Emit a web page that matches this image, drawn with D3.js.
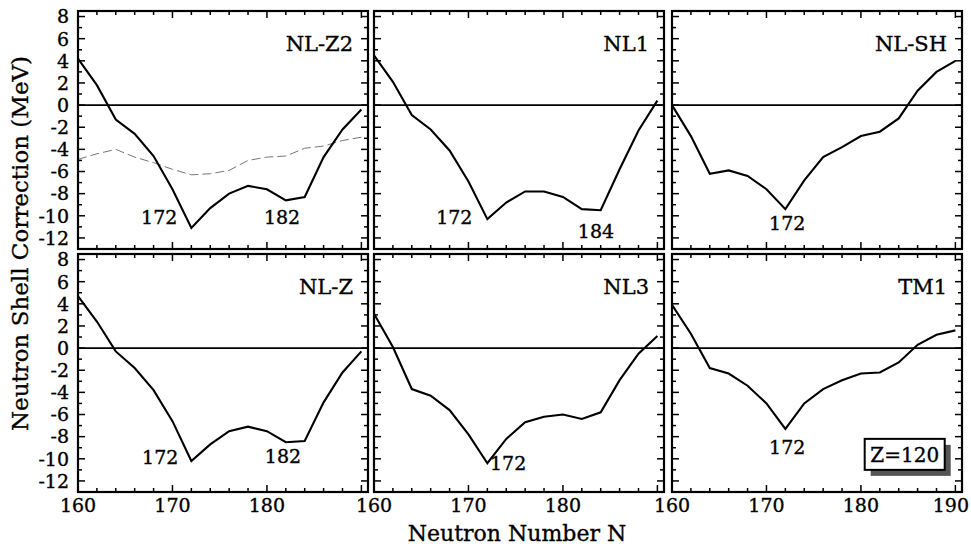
<!DOCTYPE html>
<html><head><meta charset="utf-8">
<script src="https://cdn.jsdelivr.net/npm/d3@7"></script>
<style>html,body{margin:0;padding:0;background:#fff;}svg{display:block;}</style>
</head><body>
<script>
// ---- data ----
const neutronN = [160,162,164,166,168,170,172,174,176,178,180,182,184,186,188,190];
const panelNames = ["NL-Z2","NL1","NL-SH","NL-Z","NL3","TM1"];
const nlz2  = [4.2,1.8,-1.3,-2.6,-4.6,-7.6,-11.1,-9.3,-8.0,-7.3,-7.6,-8.6,-8.3,-4.7,-2.2,-0.4];
const nlz2Ref = [-4.9,-4.4,-4.0,-4.7,-5.2,-5.8,-6.3,-6.2,-5.9,-5.0,-4.7,-4.6,-3.9,-3.7,-3.2,-2.9];
const nl1   = [4.5,2.1,-0.9,-2.2,-4.1,-6.9,-10.3,-8.8,-7.8,-7.8,-8.3,-9.4,-9.5,-5.8,-2.3,0.4];
const nlsh  = [0.0,-2.8,-6.2,-5.9,-6.4,-7.6,-9.4,-6.8,-4.7,-3.8,-2.8,-2.4,-1.2,1.3,3.0,4.0];
const nlz   = [4.7,2.4,-0.3,-1.8,-3.8,-6.6,-10.2,-8.7,-7.5,-7.1,-7.5,-8.5,-8.4,-4.9,-2.2,-0.3];
const nl3   = [3.1,0.1,-3.7,-4.3,-5.6,-7.8,-10.4,-8.2,-6.7,-6.2,-6.0,-6.4,-5.8,-2.9,-0.5,1.1];
const tm1   = [3.9,1.3,-1.8,-2.3,-3.4,-5.0,-7.3,-5.0,-3.7,-2.9,-2.3,-2.2,-1.3,0.3,1.2,1.6];
const panelSeries = [nlz2, nl1, nlsh, nlz, nl3, tm1];
// shell-closure annotations: [panel, text, N position, value position]
const annotations = [
  [0,"172",168.6,-10.7],[0,"182",181.6,-10.7],
  [1,"172",168.5,-10.7],[1,"184",183.5,-12.0],
  [2,"172",172.2,-11.3],
  [3,"172",168.7,-10.5],[3,"182",181.7,-10.4],
  [4,"172",174.2,-11.0],
  [5,"172",172.2,-9.6]
];
const yTicks = [8,6,4,2,0,-2,-4,-6,-8,-10,-12];
const xTickLabels = [160,170,180,190];
const yLabel = "Neutron Shell Correction (MeV)";
const xLabel = "Neutron Number N";
const boxLabel = "Z=120";

// ---- layout ----
const W = 971, H = 546;
const colX = [78, 374, 672], panelW = 290;
const rowY = [11, 254], panelH = 238;
const font = "DejaVu Serif";

const svg = d3.select("body").append("svg").attr("width", W).attr("height", H)
  .style("font-family", font);

function txt(sel) { return sel.attr("fill", "#000").attr("stroke", "#000").attr("stroke-width", 0.35); }

panelNames.forEach((name, i) => {
  const col = i % 3, row = Math.floor(i / 3);
  const g = svg.append("g").attr("transform", `translate(${colX[col]},${rowY[row]})`);
  const x = d3.scaleLinear().domain([160, 190.7]).range([0, panelW]);
  const y = d3.scaleLinear().domain([-13, 8.5]).range([panelH, 0]);

  // zero line
  g.append("line").attr("x1", 0).attr("x2", panelW).attr("y1", y(0)).attr("y2", y(0))
    .attr("stroke", "#000").attr("stroke-width", 1.6);

  // ticks
  const tg = g.append("g").attr("stroke", "#000").attr("stroke-width", 1.5);
  d3.range(160, 191, 2).forEach(n => {
    const len = (n % 10 === 0) ? 7 : 4;
    tg.append("line").attr("x1", x(n)).attr("x2", x(n)).attr("y1", panelH).attr("y2", panelH - len);
    tg.append("line").attr("x1", x(n)).attr("x2", x(n)).attr("y1", 0).attr("y2", len);
  });
  d3.range(-13, 9, 1).forEach(v => {
    const len = (v % 2 === 0) ? 7 : 4;
    tg.append("line").attr("x1", 0).attr("x2", len).attr("y1", y(v)).attr("y2", y(v));
    tg.append("line").attr("x1", panelW).attr("x2", panelW - len).attr("y1", y(v)).attr("y2", y(v));
  });

  // reference dashed curve
  const line = d3.line().x((d, k) => x(neutronN[k])).y(d => y(d));
  if (i === 0) {
    g.append("path").datum(nlz2Ref).attr("d", line).attr("fill", "none")
      .attr("stroke", "#777").attr("stroke-width", 1).attr("stroke-dasharray", "9,4");
  }
  g.append("path").datum(panelSeries[i]).attr("d", line).attr("fill", "none")
    .attr("stroke", "#000").attr("stroke-width", 2.1).attr("stroke-linejoin", "miter");

  // frame
  g.append("rect").attr("x", 0).attr("y", 0).attr("width", panelW).attr("height", panelH)
    .attr("fill", "none").attr("stroke", "#000").attr("stroke-width", 2.2);

  // panel name
  txt(g.append("text").attr("x", panelW - 15).attr("y", 40).attr("text-anchor", "end")
    .attr("font-size", 21).text(name));

  // annotations
  annotations.filter(a => a[0] === i).forEach(a => {
    txt(g.append("text").attr("x", x(a[2])).attr("y", y(a[3])).attr("text-anchor", "middle")
      .attr("font-size", 19).text(a[1]));
  });

  // y tick labels on first column
  if (col === 0) {
    yTicks.forEach(v => {
      txt(g.append("text").attr("x", -9).attr("y", y(v)).attr("dy", "0.36em")
        .attr("text-anchor", "end").attr("font-size", 19).text(v));
    });
  }
  // x tick labels on bottom row
  if (row === 1) {
    xTickLabels.filter(v => col === 2 || v !== 190).forEach(v => {
      const last = v === 190;
      txt(g.append("text").attr("x", last ? W - 2 - colX[col] : x(v)).attr("y", panelH + 20)
        .attr("text-anchor", last ? "end" : "middle")
        .attr("font-size", 19).text(v));
    });
  }
  // Z box
  if (i === 5) {
    const bx = x(180.4), by = y(-8.2), bw = 80, bh = 31;
    g.append("rect").attr("x", bx + 6).attr("y", by + 6).attr("width", bw).attr("height", bh).attr("fill", "#555");
    g.append("rect").attr("x", bx).attr("y", by).attr("width", bw).attr("height", bh)
      .attr("fill", "#fff").attr("stroke", "#000").attr("stroke-width", 2);
    txt(g.append("text").attr("x", bx + bw / 2).attr("y", by + bh / 2).attr("dy", "0.36em")
      .attr("text-anchor", "middle").attr("font-size", 20).text(boxLabel));
  }
});

txt(svg.append("text").attr("transform", `translate(28,${(rowY[0] + rowY[1] + panelH) / 2 - 8}) rotate(-90)`)
  .attr("text-anchor", "middle").attr("font-size", 23).text(yLabel));
txt(svg.append("text").attr("x", colX[1] + panelW / 2 - 2).attr("y", 541).attr("text-anchor", "middle")
  .attr("font-size", 22).text(xLabel));
</script>
</body></html>
